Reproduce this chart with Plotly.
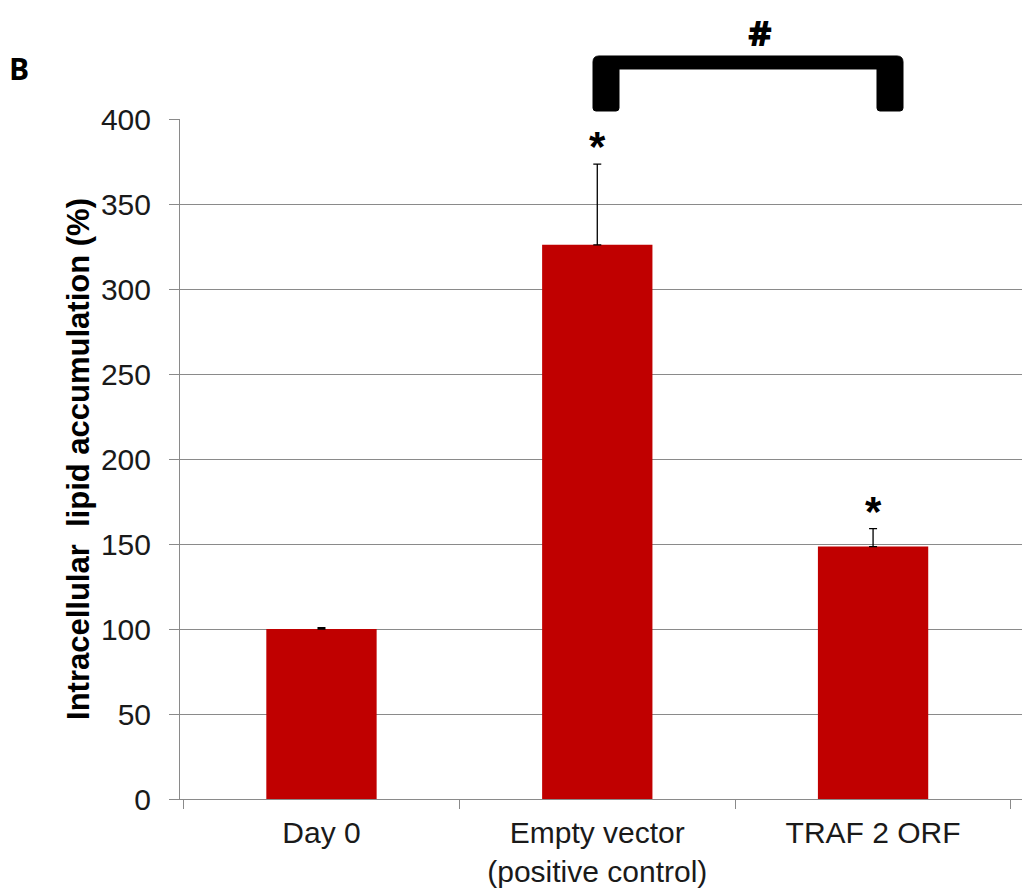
import plotly.graph_objects as go

# Data
categories = ["Day 0", "Empty vector<br>(positive control)", "TRAF 2 ORF"]
lipid_pct = [100, 326, 148.5]
lipid_err = [0.8, 47.5, 10.5]
sig_marks = ["", "*", "*"]
y_ticks = [0, 50, 100, 150, 200, 250, 300, 350, 400]

W, H = 1022, 888
ML, MR, MT, MB = 180, 0, 119, 89
PW, PH = W - ML - MR, H - MT - MB

def px_x(x):
    return (x - ML) / PW

def px_y(y):
    return (H - MB - y) / PH

BAR_COLOR = "#C00000"
GRID = "#8a8a8a"
FONT = "Liberation Sans, Arial, sans-serif"

fig = go.Figure()
fig.add_trace(go.Bar(
    x=categories, y=lipid_pct, width=0.4,
    marker=dict(color=BAR_COLOR, line=dict(width=0)),
    error_y=dict(type="data", array=lipid_err, symmetric=False,
                 arrayminus=[0, 0, 0], color="black", thickness=1.3, width=4),
    showlegend=False, hoverinfo="skip",
))

annotations = []
for cat, v, e, m in zip(categories, lipid_pct, lipid_err, sig_marks):
    if m:
        annotations.append(dict(
            x=cat, y=v + e, xref="x", yref="y", text=m, showarrow=False,
            yanchor="bottom", yshift=-8,
            font=dict(family=FONT, size=42, color="black", weight="bold"),
        ))

# Significance bracket between Empty vector and TRAF 2 ORF (rounded corners)
def P(x, y):
    return f"{px_x(x):.5f},{px_y(y):.5f}"

r = 6
xa, xb, xc, xd = 593, 619, 877, 903
yt, yi, yb = 56, 69, 111
path = (
    f"M {P(xa, yt + r)} Q {P(xa, yt)} {P(xa + r, yt)} "
    f"L {P(xd - r, yt)} Q {P(xd, yt)} {P(xd, yt + r)} "
    f"L {P(xd, yb - 3)} Q {P(xd, yb)} {P(xd - 3, yb)} "
    f"L {P(xc + 3, yb)} Q {P(xc, yb)} {P(xc, yb - 3)} "
    f"L {P(xc, yi)} L {P(xb, yi)} "
    f"L {P(xb, yb - 3)} Q {P(xb, yb)} {P(xb - 3, yb)} "
    f"L {P(xa + 3, yb)} Q {P(xa, yb)} {P(xa, yb - 3)} Z"
)
fig.add_shape(type="path", path=path, xref="paper", yref="paper",
              fillcolor="black", line=dict(color="black", width=1))

annotations.append(dict(
    x=px_x(760), y=px_y(32), xref="paper", yref="paper", text="#",
    showarrow=False, xanchor="center", yanchor="middle",
    font=dict(family="Open Sans, sans-serif", size=36, color="black", weight=800),
))
annotations.append(dict(
    x=px_x(19), y=px_y(68), xref="paper", yref="paper", text="B",
    showarrow=False, xanchor="center", yanchor="middle",
    font=dict(family="Open Sans, sans-serif", size=30, color="black", weight="bold"),
))

fig.update_layout(
    width=W, height=H,
    margin=dict(l=ML, r=MR, t=MT, b=MB, autoexpand=False),
    paper_bgcolor="white", plot_bgcolor="white",
    font=dict(family=FONT, size=30, color="#1a1a1a"),
    annotations=annotations,
)
fig.update_xaxes(
    range=[-0.513, 2.54], tickson="boundaries", ticks="outside", ticklen=9,
    tickcolor=GRID, tickwidth=1, showgrid=False,
    showline=True, linecolor=GRID, linewidth=1,
    tickfont=dict(family=FONT, size=30, color="#1a1a1a"),
    ticklabelstandoff=7,
)
fig.update_yaxes(
    range=[0, 400], tickvals=y_ticks, ticks="outside", ticklen=10,
    tickcolor=GRID, tickwidth=1, showgrid=True, gridcolor=GRID, gridwidth=1,
    showline=True, linecolor=GRID, linewidth=1, zeroline=False,
    tickfont=dict(family=FONT, size=30, color="#1a1a1a"),
    ticklabelstandoff=12,
    title=dict(text="Intracellular\u00a0 lipid accumulation (%)",
               font=dict(family=FONT, size=31, color="black", weight="bold"),
               standoff=2),
)

fig.write_html("out.html")
